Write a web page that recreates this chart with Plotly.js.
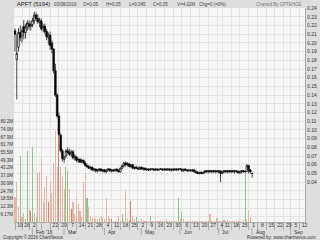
<!DOCTYPE html>
<html><head><meta charset="utf-8">
<script src="https://cdn.plot.ly/plotly-3.0.1.min.js"></script>
<style>html,body{margin:0;padding:0;background:#dedede}#c{width:320px;height:240px}</style>
</head><body><div id="c"></div>
<script>
// Trading calendar (day numbers per month) – data ends 2016-08-03, later days are empty future slots
const calMonths = ['2016-01','2016-02','2016-03','2016-04','2016-05','2016-06','2016-07','2016-08','2016-09'];
const calDays = [
 [19,20,21,22,26,27,28,29],
 [2,3,4,5,10,11,12,15,16,17,18,19,22,23,24,25,26,29],
 [1,2,3,4,7,8,9,10,11,14,15,16,17,18,21,22,23,24,25,28,29,30,31],
 [1,4,5,6,7,8,11,12,13,14,15,18,19,20,21,22,25,26,27,28,29],
 [2,3,4,5,6,9,10,11,12,13,16,17,18,19,20,23,24,25,26,27,30,31],
 [1,2,3,6,7,8,9,10,13,14,15,16,17,20,21,22,23,24,27,28,29,30],
 [1,4,5,8,11,12,13,14,15,18,19,20,21,22,25,26,27,28,29],
 [1,2,3,4,5,8,9,10,11,12,15,16,17,18,19,22,23,24,25,26,29,30],
 [1,2,5,6,7,8,9,12,13,14]
];
const monthNames = ["Jan '16","Feb '16","Mar","Apr","May","Jun","Jul","Aug","Sep"];
const hiddenWeekLabels = ['2016-02-10','2016-02-15'];

// Daily prices (MYR)
const open  = [.214,.181,.195,.212,.208,.219,.212,.218,.222,.219,.221,.226,.232,.228,.224,.225,.216,.219,.213,.206,.209,.200,.193,.168,.140,.116,
 .094,.076,.066,.070,.076,.074,.072,.075,.068,.069,.065,.066,.064,.065,.062,.059,.058,.056,.057,.054,.055,.053,.054,
 .055,.053,.054,.052,.054,.055,.053,.054,.053,.055,.053,.052,.056,.059,.062,.060,.061,.058,.060,.056,.057,
 .056,.055,.057,.055,.056,.054,.055,.054,.055,.055,.054,.055,.054,.055,.055,.054,.055,.054,.055,.054,.055,.054,
 .055,.054,.055,.055,.053,.055,.054,.053,.054,.053,.054,.052,.051,.050,.051,.050,.051,.053,.052,.053,.052,.053,
 .052,.053,.052,.053,.050,.052,.053,.052,.053,.052,.053,.052,.053,.052,.051,.052,.053,.052,.052,.059,.054,.050];
const high  = [.217,.210,.217,.220,.218,.226,.222,.226,.226,.225,.229,.236,.235,.233,.229,.228,.222,.222,.216,.212,.213,.203,.194,.176,.142,.120,
 .096,.078,.070,.078,.080,.078,.077,.077,.072,.070,.068,.068,.067,.066,.064,.061,.060,.058,.058,.056,.056,.055,.056,
 .056,.055,.055,.055,.056,.056,.055,.055,.055,.056,.055,.057,.060,.063,.064,.063,.062,.061,.061,.058,.059,
 .058,.058,.058,.057,.057,.056,.056,.056,.056,.056,.056,.056,.055,.056,.056,.056,.056,.056,.056,.055,.056,.056,
 .056,.056,.056,.056,.055,.056,.055,.055,.055,.055,.055,.054,.053,.052,.053,.052,.054,.054,.054,.054,.054,.054,
 .054,.054,.054,.053,.053,.054,.054,.054,.054,.054,.054,.054,.054,.054,.053,.054,.054,.054,.061,.060,.055,.050];
const low   = [.190,.135,.190,.202,.200,.204,.205,.214,.215,.214,.218,.222,.225,.222,.218,.214,.212,.210,.203,.198,.192,.188,.165,.138,.114,.093,
 .074,.064,.062,.068,.072,.070,.069,.066,.065,.063,.062,.062,.062,.061,.058,.056,.055,.054,.053,.052,.051,.051,.052,
 .052,.051,.051,.050,.052,.052,.051,.052,.052,.052,.051,.051,.055,.057,.058,.058,.057,.056,.055,.054,.055,
 .054,.054,.054,.053,.054,.053,.053,.053,.054,.053,.053,.053,.053,.054,.053,.053,.054,.053,.053,.052,.053,.053,
 .053,.053,.054,.052,.052,.053,.052,.052,.052,.052,.051,.050,.049,.049,.049,.049,.050,.051,.050,.051,.050,.051,
 .050,.051,.050,.040,.049,.050,.051,.050,.051,.050,.051,.050,.051,.050,.049,.050,.051,.052,.052,.050,.050,.045];
const close = [.210,.188,.212,.206,.214,.212,.218,.223,.219,.221,.226,.232,.228,.224,.226,.216,.219,.213,.207,.209,.197,.193,.168,.140,.116,.095,
 .076,.067,.069,.076,.074,.072,.075,.068,.070,.065,.066,.063,.065,.062,.059,.058,.056,.057,.054,.055,.053,.054,.055,
 .053,.054,.052,.054,.055,.053,.054,.053,.055,.053,.052,.056,.059,.062,.060,.061,.058,.060,.056,.057,.056,
 .055,.057,.055,.056,.054,.055,.054,.055,.055,.054,.055,.054,.055,.055,.054,.055,.054,.055,.054,.055,.054,.055,
 .054,.055,.055,.053,.055,.054,.053,.054,.053,.054,.052,.051,.050,.051,.050,.051,.053,.052,.053,.052,.053,.052,
 .053,.052,.053,.050,.052,.053,.052,.053,.052,.053,.052,.053,.052,.051,.052,.053,.052,.052,.059,.054,.052,.050];
// Daily volume (millions of shares) and bar colour class: g = up, r = down, p = pale
const volume = [20,32,12,53,4,7,2,57,10,9,60,7,4,39,40,51,16,28,37,16,32,23,47,73,44,85,
 44,37,26,44,41,26,10,16,6,20,14,9,4,32,39,19,12,5,3,4,2,2,3,
 5,3,2,19,5,2,2,1,1,1,5,1,6,1,25,3,1,17,5,2,4,
 1,1,2,1,1,1,1,5,1,1,1,1,1,1,1,1,2,1,1,1,1,1,
 1,19,2,8,2,1,1,1,1,1,1,1,1,1,1,1,1,1,1,6,1,1,
 1,3,1,1,1,1.5,1,1.5,1,1,1,1,1,1,1,1,1.5,41,2,9.5,4.02];
const volClass = ['p','p','p','g','p','p','g','g','p','r','g','p','g','p','p','p','p','p','p','r','p','p','p','p','p','r',
 'p','p','p','g','g','p','r','p','p','p','p','p','p','p','p','g','p','p','p','p','p','p','p',
 'p','p','p','p','p','p','r','p','p','p','p','g','g','p','p','p','r','r','p','p','g',
 'p','p','p','p','p','p','p','g','p','p','p','p','p','p','p','p','p','p','p','p','p','p',
 'p','g','p','g','p','p','p','p','p','p','p','p','p','p','p','p','p','p','p','p','p','p',
 'p','p','p','p','p','p','p','p','p','p','p','p','p','p','p','p','p','g','p','p','p'];
const priceTicks = [0.04,0.05,0.06,0.07,0.08,0.09,0.10,0.11,0.12,0.13,0.14,0.15,0.16,0.17,0.18,0.19,0.20,0.21,0.22,0.23,0.24];
const volTicks = [6.17,12.3,18.5,24.7,30.9,37.0,43.2,49.3,55.5,61.7,67.9,74.0,80.2];
const volTickText = ['6.17M','12.3M','18.5M','24.7M','30.9M','37.0M','43.2M','49.3M','55.5M','61.7M','67.9M','74.0M','80.2M'];
const header = ['APFT (5194)','03/08/2016','O=0.05','H=0.05','L=0.045','C=0.05','V=4.02M','Chg=0 (=0%)'];

// build calendar
const dates = [];
calMonths.forEach((m,mi)=>calDays[mi].forEach(d=>dates.push({m:mi, d:d, s:m+'-'+String(d).padStart(2,'0')})));
const n = close.length;
const xData = dates.slice(0,n).map((_,i)=>i);
const tickvals=[], ticktext=[], monthStart=[];
let prev=null;
dates.forEach((o,i)=>{
  const dt = new Date(o.s+'T00:00:00Z');
  if(prev===null || dt.getUTCDay() <= prev.getUTCDay() || (dt-prev)/864e5 > 6){
    tickvals.push(i); ticktext.push(hiddenWeekLabels.includes(o.s)?'':String(o.d));
  }
  if(i===0 || dates[i-1].m!==o.m) monthStart.push({i:i, name:monthNames[o.m]});
  prev = dt;
});

const colMap = {g:'#8cc48c', r:'#d8805e', p:'#e7b4a3'};
const L=14, R=15, T=8, B=18, W=320, H=240;
const pw=W-L-R, ph=H-T-B;
const px = x => (x-L)/pw;
const py = y => (H-B-y)/ph;
const f = {family:'Liberation Sans, Arial, sans-serif', color:'#333'};

const annotations = [];
const hx = [15,52,81,104,127,151,175,197];
header.forEach((t,k)=>annotations.push({xref:'paper',yref:'paper',x:px(hx[k]),y:py(4),xanchor:'left',yanchor:'middle',showarrow:false,text:t,
  font:Object.assign({},f,{size:k===0?5.8:4.5,color:k===0?'#222':'#444'})}));
annotations.push({xref:'paper',yref:'paper',x:px(304),y:py(4),xanchor:'right',yanchor:'middle',showarrow:false,text:'Charted By CPTEHOE',font:Object.assign({},f,{size:4.5,color:'#777'})});
annotations.push({xref:'paper',yref:'paper',x:px(1),y:py(237),xanchor:'left',yanchor:'middle',showarrow:false,text:'Copyright © 2016 ChartNexus',font:Object.assign({},f,{size:4.5,color:'#333'})});
annotations.push({xref:'paper',yref:'paper',x:px(318),y:py(237),xanchor:'right',yanchor:'middle',showarrow:false,text:'Powered by: www.chartnexus.com',font:Object.assign({},f,{size:4.5,color:'#333'})});
const shapes = [];
monthStart.forEach(ms=>{
  if(ms.i===0) return;
  annotations.push({xref:'x',yref:'paper',x:ms.i,y:py(232),xanchor:'left',yanchor:'middle',showarrow:false,xshift:5,text:ms.name,font:Object.assign({},f,{size:5})});
  shapes.push({type:'line',xref:'x',yref:'paper',x0:ms.i+1.9,x1:ms.i+1.9,y0:py(228),y1:py(235),line:{color:'#888',width:0.6}});
});

const traces = [
  {type:'bar', x:xData, y:volume, yaxis:'y', marker:{color:volClass.map(c=>colMap[c]), line:{width:0}}, width:0.62, hoverinfo:'skip'},
  {type:'candlestick', x:xData, open:open, high:high, low:low, close:close, yaxis:'y2', whiskerwidth:0,
   increasing:{line:{color:'#000',width:0.7}, fillcolor:'#ffffff'},
   decreasing:{line:{color:'#000',width:0.7}, fillcolor:'#000000'}, hoverinfo:'skip'}
];
const pt = [];
for(let k=0;k<=24;k++) pt.push(k/100);
const layout = {
  width:W, height:H, margin:{l:L,r:R,t:T,b:B,pad:0},
  paper_bgcolor:'#dedede', plot_bgcolor:'#f7f7f7', showlegend:false, bargap:0, boxgap:0.1, boxgroupgap:0,
  xaxis:{range:[-0.57,165.1], tickvals:tickvals, ticktext:ticktext, tickangle:0, showgrid:true, gridcolor:'#e4e4e4', gridwidth:1,
    ticks:'outside', ticklen:7, tickwidth:0.6, tickcolor:'#888', ticklabelshift:5, ticklabelstandoff:-9,
    tickfont:Object.assign({},f,{size:5}), zeroline:false, showline:true, linecolor:'#aaa', linewidth:1, rangeslider:{visible:false}, fixedrange:true},
  yaxis:{range:[0,170.8], side:'left', tickvals:volTicks, ticktext:volTickText, tickangle:0, showgrid:false, zeroline:false,
    tickfont:Object.assign({},f,{size:4.5}), ticks:'', showline:false, fixedrange:true},
  yaxis2:{overlaying:'y', side:'right', range:[-0.0058,0.2401], tickvals:pt, ticktext:pt.map(v=>priceTicks.some(p=>Math.abs(p-v)<1e-9)?v.toFixed(2):''),
    showgrid:true, gridcolor:'#e4e4e4', gridwidth:1, zeroline:false, showline:true, linecolor:'#aaa', linewidth:1,
    tickfont:Object.assign({},f,{size:5}), ticks:'', fixedrange:true},
  annotations:annotations, shapes:shapes
};
Plotly.newPlot('c', traces, layout, {staticPlot:true, displayModeBar:false});
</script></body></html>
